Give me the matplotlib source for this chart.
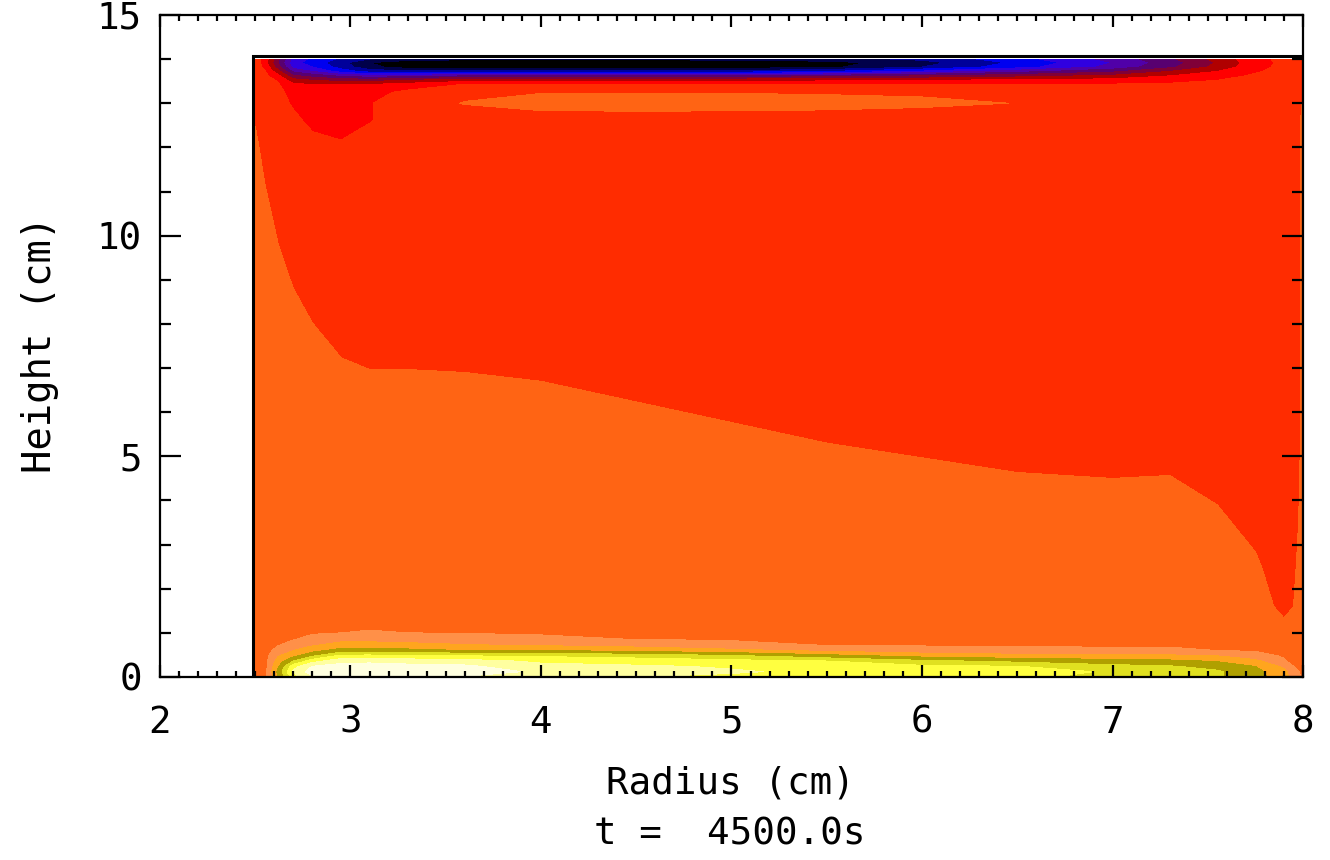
import numpy as np
import matplotlib
matplotlib.use("Agg")
import matplotlib.pyplot as plt
from matplotlib.ticker import MultipleLocator

# grid of the field (radius, height), values in contour-band units
radius = [2.5, 2.55, 2.62, 2.7, 2.8, 2.95, 3.1, 3.3, 3.6, 4.0, 4.5, 5.0, 5.5,
          6.0, 6.5, 7.0, 7.3, 7.55, 7.75, 7.9, 8.0]
height = [0.0, 0.12, 0.24, 0.36, 0.48, 0.6, 0.72, 0.86, 1.0, 1.2, 1.6, 2.5,
          3.5, 4.5, 5.5, 6.5, 7.5, 9.0, 10.5, 12.0, 12.6, 13.0, 13.25, 13.42,
          13.52, 13.62, 13.72, 13.82, 13.92, 14.0]

# one row per height, one column per radius
field = [
    [11.6, 11.6, 14.0, 16.5, 17.8, 18.0, 18.1, 18.0, 17.9, 17.3, 17.0, 16.8, 16.5, 16.4, 16.2, 15.7, 15.4, 15.1, 14.4, 13.4, 11.8],
    [11.6, 11.6, 14.25, 17.2, 18.5, 18.9, 18.9, 18.8, 18.6, 17.8, 17.4, 17.1, 16.8, 16.6, 16.4, 15.9, 15.6, 15.15, 14.3, 13.3, 11.7],
    [11.6, 11.6, 13.92, 16.6, 18.04, 18.39, 18.41, 18.32, 18.2, 17.34, 17.13, 16.9, 16.42, 16.2, 16.03, 15.3, 15.09, 14.65, 14.0, 12.78, 11.3],
    [11.6, 11.6, 13.42, 15.0, 16.63, 17.67, 17.78, 17.6, 17.45, 16.79, 16.6, 16.3, 16.03, 15.25, 14.75, 14.4, 14.23, 13.92, 13.25, 12.11, 11.25],
    [11.6, 11.6, 12.91, 13.75, 14.86, 16.25, 16.29, 16.14, 16.0, 15.86, 15.57, 15.14, 14.33, 13.63, 13.33, 13.2, 13.18, 13.0, 12.38, 11.9, 11.2],
    [11.6, 11.6, 12.36, 13.0, 13.63, 14.43, 14.43, 14.29, 14.0, 14.0, 13.67, 13.25, 12.77, 12.42, 12.25, 12.17, 12.17, 12.0, 11.93, 11.78, 11.2],
    [11.6, 11.6, 11.96, 12.4, 12.91, 13.4, 13.4, 13.29, 13.08, 12.9, 12.65, 12.29, 11.98, 11.93, 11.91, 11.9, 11.9, 11.88, 11.8, 11.66, 11.15],
    [11.6, 11.6, 11.82, 11.94, 12.27, 12.64, 12.67, 12.58, 12.43, 12.2, 11.97, 11.9, 11.84, 11.79, 11.77, 11.76, 11.76, 11.74, 11.6, 11.52, 11.15],
    [11.6, 11.6, 11.7, 11.8, 11.92, 12.0, 12.08, 12.0, 11.96, 11.9, 11.83, 11.76, 11.7, 11.65, 11.63, 11.6, 11.6, 11.5, 11.4, 11.38, 11.1],
    [11.6, 11.6, 11.7, 11.7, 11.72, 11.8, 11.82, 11.8, 11.76, 11.7, 11.7, 11.7, 11.65, 11.6, 11.55, 11.53, 11.53, 11.42, 11.3, 11.05, 11.1],
    [11.7, 11.7, 11.7, 11.7, 11.7, 11.7, 11.7, 11.7, 11.7, 11.7, 11.69, 11.62, 11.56, 11.5, 11.46, 11.44, 11.44, 11.35, 11.18, 10.9, 11.1],
    [11.7, 11.7, 11.7, 11.7, 11.7, 11.7, 11.67, 11.67, 11.66, 11.63, 11.56, 11.49, 11.42, 11.37, 11.32, 11.3, 11.31, 11.21, 11.05, 10.82, 11.1],
    [11.7, 11.7, 11.7, 11.7, 11.68, 11.56, 11.52, 11.52, 11.51, 11.48, 11.41, 11.34, 11.27, 11.22, 11.17, 11.15, 11.16, 11.06, 10.9, 10.67, 11.1],
    [11.7, 11.7, 11.7, 11.65, 11.53, 11.41, 11.37, 11.37, 11.36, 11.33, 11.26, 11.19, 11.12, 11.07, 11.02, 11.0, 11.01, 10.91, 10.75, 10.52, 11.1],
    [11.7, 11.7, 11.65, 11.5, 11.38, 11.26, 11.22, 11.22, 11.21, 11.18, 11.11, 11.04, 10.97, 10.92, 10.87, 10.85, 10.86, 10.76, 10.6, 10.37, 11.1],
    [11.7, 11.7, 11.5, 11.35, 11.23, 11.11, 11.07, 11.07, 11.06, 11.03, 10.96, 10.89, 10.82, 10.77, 10.72, 10.7, 10.71, 10.61, 10.45, 10.3, 11.1],
    [11.7, 11.55, 11.35, 11.2, 11.08, 10.96, 10.92, 10.92, 10.91, 10.88, 10.81, 10.74, 10.67, 10.62, 10.57, 10.55, 10.56, 10.46, 10.33, 10.3, 11.1],
    [11.52, 11.33, 11.12, 10.97, 10.85, 10.74, 10.69, 10.69, 10.69, 10.66, 10.58, 10.51, 10.45, 10.39, 10.35, 10.33, 10.33, 10.3, 10.3, 10.3, 11.1],
    [11.3, 11.1, 10.9, 10.75, 10.63, 10.51, 10.47, 10.47, 10.46, 10.43, 10.36, 10.3, 10.3, 10.3, 10.3, 10.3, 10.3, 10.3, 10.3, 10.3, 11.1],
    [11.08, 10.88, 10.67, 10.52, 10.3, 10.15, 10.3, 10.3, 10.3, 10.3, 10.3, 10.3, 10.3, 10.3, 10.3, 10.3, 10.3, 10.3, 10.3, 10.3, 11.1],
    [10.98, 10.79, 10.5, 10.2, 9.8, 9.6, 9.97, 10.3, 10.35, 10.45, 10.45, 10.45, 10.42, 10.38, 10.3, 10.3, 10.3, 10.3, 10.3, 10.3, 11.1],
    [10.7, 10.5, 10.3, 9.9, 9.5, 9.5, 9.95, 10.5, 11.05, 11.4, 11.45, 11.42, 11.35, 11.2, 10.98, 10.5, 10.4, 10.4, 10.35, 10.3, 11.05],
    [10.6, 10.4, 10.3, 9.6, 9.3, 9.45, 9.7, 10.2, 10.75, 10.95, 10.95, 10.95, 10.9, 10.85, 10.7, 10.4, 10.35, 10.35, 10.35, 10.3, 10.5],
    [10.5, 10.4, 10.1, 9.2, 9.1, 9.0, 9.1, 9.5, 10.05, 10.1, 10.1, 10.1, 10.1, 10.1, 10.1, 10.1, 10.15, 10.3, 10.35, 10.3, 10.5],
    [10.5, 10.35, 9.9, 8.4, 8.0, 7.6, 7.6, 8.0, 8.6, 8.6, 8.6, 8.7, 8.8, 9.0, 9.2, 9.4, 9.7, 10.0, 10.3, 10.3, 10.5],
    [10.5, 10.25, 9.3, 7.2, 6.6, 5.8, 5.3, 5.5, 6.0, 6.0, 6.0, 6.2, 6.5, 7.0, 7.6, 8.2, 9.0, 9.6, 10.15, 10.3, 10.5],
    [10.5, 10.1, 8.4, 5.8, 5.0, 3.6, 2.6, 2.2, 2.2, 2.2, 2.2, 2.4, 3.0, 4.2, 5.6, 6.8, 8.0, 9.0, 9.9, 10.3, 10.5],
    [10.5, 9.8, 7.4, 4.6, 4.0, 2.6, 1.3, 0.5, 0.3, 0.3, 0.3, 0.4, 0.8, 2.0, 3.6, 5.3, 6.8, 8.3, 9.7, 10.25, 10.5],
    [10.5, 9.5, 7.0, 4.3, 3.6, 2.3, 1.0, 0.4, 0.2, 0.2, 0.2, 0.3, 0.6, 1.6, 3.2, 5.0, 6.5, 8.1, 9.6, 10.2, 10.5],
    [10.5, 9.6, 7.2, 4.6, 3.8, 2.8, 2.0, 1.4, 1.2, 1.2, 1.2, 1.3, 1.6, 2.2, 3.6, 5.3, 6.8, 8.3, 9.7, 10.25, 10.5],
]

levels = list(range(20))
band_colors = ['#000000', '#00004a', '#00009a', '#0000f0', '#3000e0', '#5000a8',
               '#580070', '#800038', '#b00000', '#ff0000', '#ff2c00', '#ff6414',
               '#ff9048', '#ffa51e', '#b0a000', '#e0e020', '#ffff40', '#ffffa0',
               '#ffffe0']

box_r = [2.49, 2.49, 8.0, 8.0]
box_z = [0.0, 14.06, 14.06, 0.0]

plt.rcParams['font.family'] = 'DejaVu Sans Mono'
plt.rcParams['font.size'] = 27

fig = plt.figure(figsize=(13.3, 8.6), dpi=100)
ax = fig.add_axes([0.1203, 0.2128, 0.8594, 0.7698])

R, Z = np.meshgrid(radius, height)
ax.contourf(R, Z, np.array(field), levels=levels, colors=band_colors)
ax.plot(box_r, box_z, color='black', lw=2.2, solid_joinstyle='miter')

ax.set_xlim(2, 8)
ax.set_ylim(0, 15)
ax.set_xticks(range(2, 9))
ax.set_yticks([0, 5, 10, 15])
ax.xaxis.set_minor_locator(MultipleLocator(0.1))
ax.yaxis.set_minor_locator(MultipleLocator(1))

ax.tick_params(which='both', direction='in', top=True, right=True, width=1.6)
ax.tick_params(axis='x', which='major', length=8.6, pad=20)
ax.tick_params(axis='x', which='minor', length=4.3)
ax.tick_params(axis='y', which='major', length=15, pad=13)
ax.tick_params(axis='y', which='minor', length=8)
for s in ax.spines.values():
    s.set_linewidth(1.6)

fig.text(0.549, 0.0895, 'Radius (cm)', ha='center', va='center')
fig.text(0.549, 0.030, 't =  4500.0s', ha='center', va='center')
fig.text(0.030, 0.599, 'Height (cm)', ha='center', va='center', rotation=90,
         fontsize=28)

fig.savefig('out.png', dpi=100)
